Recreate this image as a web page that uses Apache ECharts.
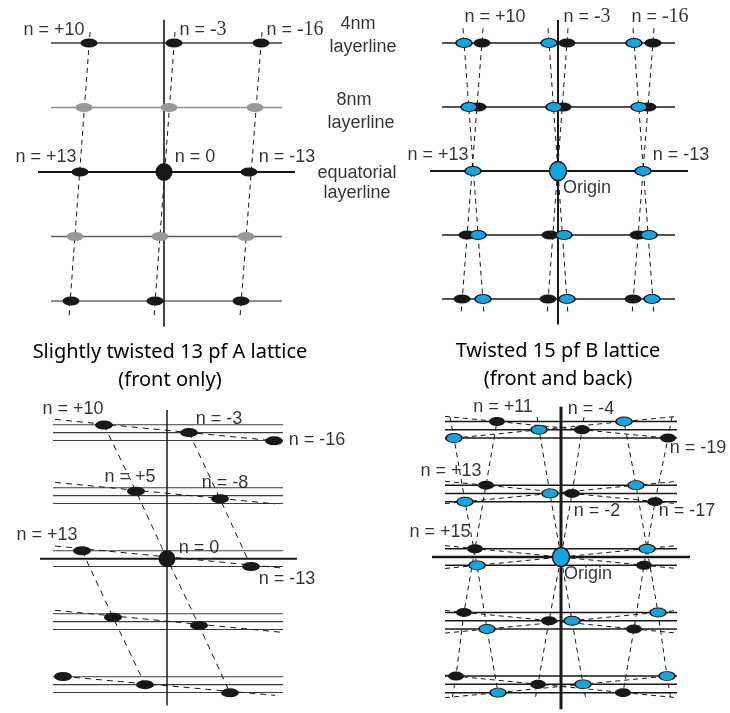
<!DOCTYPE html>
<html><head><meta charset="utf-8">
<script src="https://cdn.jsdelivr.net/npm/echarts@6/dist/echarts.min.js"></script>
<style>html,body{margin:0;padding:0;background:#fff}#c{width:730px;height:713px}</style>
</head><body><div id="c"></div>
<script>
// Coordinates: x = offset from the meridian, y = layerline index (equator = 0)

// ---- Panel 1 : untwisted 13 pf A lattice
const p1Layers = [2, 1, 0, -1, -2];
const p1Black = [[-75,2],[10,2],[97,2],[-84,0],[85,0],[-93,-2],[-9,-2],[77,-2]];
const p1Grey = [[-80,1],[5,1],[91,1],[-89,-1],[-4,-1],[82,-1]];
const p1Origin = [[0,0]];
const p1Dashed = [[[-74,2.17],[-95,-2.25]], [[11,2.17],[-10,-2.25]], [[98,2.17],[76,-2.25]]];
const p1Labels = [['n = +10',-110,2.2],['n = -3',39,2.2],['n = -16',131,2.2],
  ['n = +13',-118,0.23],['n = 0',31,0.23],['n = -13',123,0.23],
  ['4nm',194,2.29],['layerline',199,1.94],['8nm',190,1.12],['layerline',197,0.76],
  ['equatorial',193,-0.02],['layerline',193,-0.33]];

// ---- Panel 2 : front and back
const p2Layers = [2, 1, 0, -1, -2];
const p2Black = [[-76,2],[9,2],[95,2],[-80,1],[5,1],[90,1],[-91,-1],[-8,-1],[80,-1],[-96,-2],[-10,-2],[75,-2]];
const p2Blue = [[-94,2],[-9,2],[76,2],[-89,1],[-4,1],[81,1],[-85,0],[85,0],[-80,-1],[6,-1],[91,-1],[-75,-2],[9,-2],[94,-2]];
const p2Origin = [[0,0]];
const p2Dashed = [[[-75,2.23],[-97,-2.25]], [[10,2.23],[-11,-2.25]], [[96,2.23],[74,-2.25]],
  [[-95,2.23],[-74,-2.25]], [[-10,2.23],[10,-2.25]], [[75,2.23],[96,-2.25]]];
const p2Labels = [['n = +10',-63,2.41],['n = -3',29,2.41],['n = -16',102,2.41],
  ['n = +13',-120,0.25],['n = -13',123,0.25],['Origin',29,-0.27]];

// ---- Panel 3 : slightly twisted 13 pf A lattice
const p3Title = 'Slightly twisted 13 pf A lattice\n(front only)';
const p3LineY = [2.125,2,1.875,1.125,1,0.875,0.125,0,-0.125,-0.875,-1,-1.125,-1.875,-2,-2.125];
const p3Black = [[-63,2.12],[22,2],[107,1.87],[-31,1.07],[53,0.95],[-85,0.125],[84,-0.125],
  [-54,-0.93],[32,-1.06],[-104,-1.87],[-22,-2],[63,-2.13]];
const p3Origin = [[0,0]];
const p3Slant = [[[-63,2.12],[-31,1.07],[0,0],[32,-1.06],[63,-2.13]],
  [[22,2],[53,0.95],[84,-0.125]], [[-85,0.125],[-54,-0.93],[-22,-2]]];
const p3Near = [[[-112,2.21],[107,1.87]], [[-112,1.21],[108,0.87]], [[-112,0.2],[116,-0.15]],
  [[-112,-0.82],[115,-1.17]], [[-104,-1.87],[108,-2.17]]];
const p3Labels = [['n = +10',-94,2.38],['n = -3',52,2.21],['n = -16',150,1.88],
  ['n = +5',-37,1.29],['n = -8',58,1.2],['n = +13',-120,0.37],['n = 0',32,0.17],['n = -13',120,-0.33]];

// ---- Panel 4 : twisted 15 pf B lattice
const p4Title = 'Twisted 15 pf B lattice\n(front and back)';
const p4LineY = [2.13,2,1.87,1.13,1,0.87,0.13,0,-0.13,-0.87,-1,-1.13,-1.87,-2,-2.13];
const p4Black = [[-64,2.13],[21,2],[107,1.87],[-75,1.13],[11,1],[94,0.87],[-86,0.13],[83,-0.13],
  [-97,-0.87],[-12,-1],[73,-1.13],[-105,-1.87],[-23,-2],[62,-2.13]];
const p4Blue = [[63,2.13],[-22,2],[-107,1.87],[75,1.13],[-11,1],[-96,0.87],[86,0.13],[-84,-0.13],
  [97,-0.87],[11,-1],[-74,-1.13],[106,-1.87],[22,-2],[-63,-2.13]];
const p4Origin = [[0,0]];
const p4Vert = [
  [[-63,2.2],[-64,2.13],[-75,1.13],[-86,0.13],[-97,-0.87],[-105,-1.87],[-109,-2.24]],
  [[-111,2.2],[-107,1.87],[-96,0.87],[-84,-0.13],[-74,-1.13],[-63,-2.13],[-62,-2.24]],
  [[-24,2.2],[-22,2],[-11,1],[0,0],[11,-1],[22,-2],[25,-2.24]],
  [[23,2.2],[21,2],[11,1],[0,0],[-12,-1],[-23,-2],[-26,-2.24]],
  [[62,2.2],[63,2.13],[75,1.13],[86,0.13],[97,-0.87],[106,-1.87],[110,-2.24]],
  [[111,2.2],[107,1.87],[94,0.87],[83,-0.13],[73,-1.13],[62,-2.13],[61,-2.24]]];
const p4Near = [
  [[-116,2.21],[116,1.855]], [[-116,1.855],[116,2.21]],
  [[-116,1.19],[116,0.84]], [[-116,0.84],[116,1.19]],
  [[-116,0.18],[116,-0.18]], [[-116,-0.18],[116,0.18]],
  [[-116,-0.84],[116,-1.195]], [[-116,-1.195],[116,-0.84]],
  [[-116,-1.855],[116,-2.21]], [[-116,-2.21],[116,-1.855]]];
const p4Labels = [['n = +11',-58,2.36],['n = -4',30,2.33],['n = -19',137,1.72],
  ['n = +13',-110,1.35],['n = -2',36,0.73],['n = -17',126,0.73],['n = +15',-121,0.4],['Origin',27,-0.26]];

// ---------------- layout / style ----------------
const INK = '#1a1718', BLUE = '#12a5e0', GREY = '#8e8e8e';
const SANS = 'Liberation Sans, Arial, sans-serif';
const PANELS = [
  {cx:164, cy:172, s:64.5, x:[-160,240], y:[-2.6,2.6]},
  {cx:558, cy:171, s:64,   x:[-165,165], y:[-2.6,2.6]},
  {cx:167, cy:562, s:64.3, x:[-160,190], y:[-2.45,2.6]},
  {cx:561, cy:559, s:64.4, x:[-160,169], y:[-2.45,2.6]}];

const grid = PANELS.map(p => ({left:p.cx+p.x[0], top:p.cy-p.y[1]*p.s, width:p.x[1]-p.x[0], height:(p.y[1]-p.y[0])*p.s}));
const xAxis = PANELS.map((p,i) => ({type:'value', gridIndex:i, min:p.x[0], max:p.x[1], show:false}));
const yAxis = PANELS.map((p,i) => ({type:'value', gridIndex:i, min:p.y[0], max:p.y[1], show:false}));

function lines(i, list, style, z) {
  return {type:'lines', coordinateSystem:'cartesian2d', xAxisIndex:i, yAxisIndex:i, polyline:true,
    silent:true, clip:false, z:z||1, data:list.map(c => ({coords:c})), lineStyle:Object.assign({opacity:1}, style)};
}
function dots(i, data, size, color, border, z) {
  return {type:'scatter', xAxisIndex:i, yAxisIndex:i, data:data, symbol:'circle', symbolSize:size, clip:false,
    silent:true, z:z||3, itemStyle:{color:color, borderColor:INK, borderWidth:border||0, opacity:1}};
}
const SERIF = ['n = -3', 'n = -16'];
function labels(i, arr, serif) {
  return {type:'scatter', xAxisIndex:i, yAxisIndex:i, symbolSize:1, clip:false, silent:true, z:6,
    itemStyle:{color:'rgba(0,0,0,0)'},
    data:arr.map(a => ({value:[a[1],a[2]], name:a[0]})),
    label:{show:true, position:'inside', color:'#000', textBorderWidth:0, fontFamily:SANS, fontSize:18,
      formatter: p => (serif && SERIF.includes(p.name)) ? '{s|n = }{t|' + p.name.slice(4) + '}' : p.name,
      rich:{s:{fontFamily:SANS, fontSize:18, color:'#000', textBorderWidth:0},
            t:{fontFamily:'Liberation Serif, serif', fontSize:20, color:'#000', textBorderWidth:0}}}};
}
const dash = {color:INK, width:1, type:[5,4]};
const dash3 = {color:INK, width:1, type:[6,5]};
const series = [];

// Panel 1
const p1Colors = ['#3a3a3a', GREY, INK, '#5a5a5a', '#6a6a6a'];
p1Layers.forEach((L, k) => {
  const eq = L === 0;
  series.push(lines(0, [[[eq?-126:-113, L],[eq?131:118, L]]], {color:p1Colors[k], width:eq?2.2:1.4}));
});
series.push(lines(0, [[[0,2.36],[0,-2.4]]], {color:INK, width:1.6}));
series.push(lines(0, p1Dashed, dash, 2));
series.push(dots(0, p1Grey, [17,9], '#999999'));
series.push(dots(0, p1Black, [17,9], INK));
series.push(dots(0, p1Origin, [17,18], INK));
series.push(labels(0, p1Labels, true));

// Panel 2
p2Layers.forEach(L => {
  const eq = L === 0;
  series.push(lines(1, [[[eq?-128:-116, L],[eq?130:117, L]]], {color:INK, width:eq?2:1.4}));
});
series.push(lines(1, [[[0,2.36],[0,-2.4]]], {color:INK, width:2}));
series.push(lines(1, p2Dashed, dash, 2));
series.push(dots(1, p2Black, [17,9], INK));
series.push(dots(1, p2Blue, [16,9], BLUE, 1.2, 4));
series.push(dots(1, p2Origin, [17,19], BLUE, 1.5, 5));
series.push(labels(1, p2Labels, true));

// Panel 3
p3LineY.forEach(Y => {
  const eq = Y === 0;
  series.push(lines(2, [[[eq?-127:-114, Y],[eq?130:116, Y]]], {color:eq?INK:'#3c3c3c', width:eq?2:1.2}));
});
series.push(lines(2, [[[0,2.36],[0,-2.33]]], {color:INK, width:1.5}));
series.push(lines(2, p3Slant, dash3, 2));
series.push(lines(2, p3Near, dash3, 2));
series.push(dots(2, p3Black, [18,9], INK));
series.push(dots(2, p3Origin, [17,17], INK, 0, 5));
series.push(labels(2, p3Labels, false));

// Panel 4
p4LineY.forEach(Y => {
  const eq = Y === 0;
  series.push(lines(3, [[[eq?-129:-116, Y],[eq?129:116, Y]]], {color:INK, width:eq?2.5:1.5}));
});
series.push(lines(3, [[[0,2.36],[0,-2.39]]], {color:INK, width:3}));
series.push(lines(3, p4Vert, dash, 2));
series.push(lines(3, p4Near, dash, 2));
series.push(dots(3, p4Black, [16,9], INK));
series.push(dots(3, p4Blue, [16,9], BLUE, 1.2, 4));
series.push(dots(3, p4Origin, [17,19], BLUE, 1.5, 5));
series.push(labels(3, p4Labels, false));

const titleStyle = {fontFamily:'Noto Sans, sans-serif', fontSize:20, fontWeight:'normal', lineHeight:28, color:'#000'};
const chart = echarts.init(document.getElementById('c'), null, {renderer:'canvas'});
chart.setOption({
  animation:false,
  backgroundColor:'#ffffff',
  title:[
    {text:p3Title, left:170, top:338, textAlign:'center', padding:0, textStyle:titleStyle},
    {text:p4Title, left:558, top:337, textAlign:'center', padding:0, textStyle:titleStyle}],
  grid:grid, xAxis:xAxis, yAxis:yAxis, series:series
});
</script></body></html>
